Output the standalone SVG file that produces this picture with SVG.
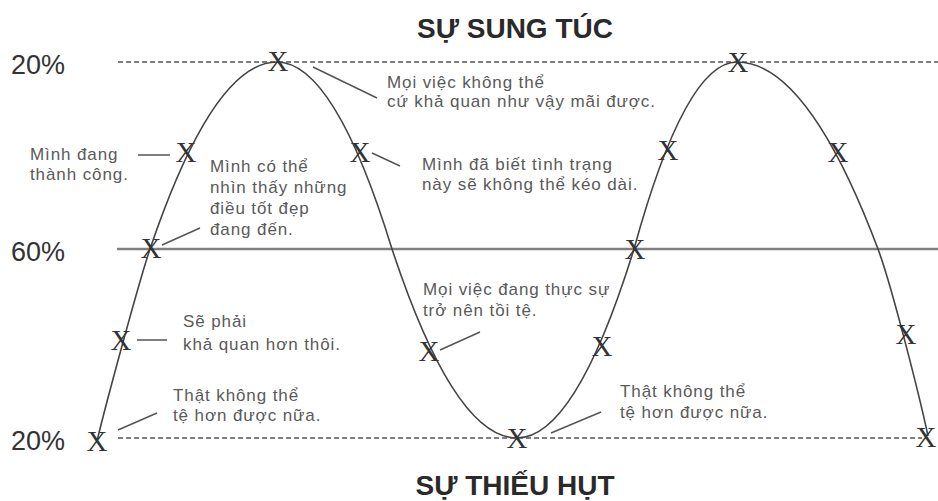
<svg xmlns="http://www.w3.org/2000/svg" width="938" height="501" viewBox="0 0 938 501">
<style>
.title{font-family:"Liberation Sans",Arial,sans-serif;font-size:28px;font-weight:bold;fill:#2a2a2a;text-anchor:middle}
.pct{font-family:"Liberation Sans",Arial,sans-serif;font-size:27px;fill:#333}
.lbl{font-family:"Liberation Sans",Arial,sans-serif;font-size:17px;fill:#5a5a5a;letter-spacing:0.9px}
.mark{font-family:"Liberation Serif","Times New Roman",serif;font-size:29px;fill:#333;text-anchor:middle}
.dash{stroke:#555;stroke-width:1.5;stroke-dasharray:5 3;fill:none}
.lead{stroke:#555;stroke-width:1.5;fill:none}
.curve{stroke:#444;stroke-width:1.6;fill:none}
</style>
<rect width="938" height="501" fill="#fff"/>
<g id="axes">
<line class="dash" x1="118" y1="62" x2="938" y2="62"/>
<line x1="117" y1="249" x2="938" y2="249" stroke="#808080" stroke-width="2.5"/>
<line class="dash" x1="118" y1="438" x2="922" y2="438"/>
<text class="pct" x="11" y="74">20%</text>
<text class="pct" x="11" y="261">60%</text>
<text class="pct" x="11" y="450">20%</text>
<text class="title" x="515" y="38">SỰ SUNG TÚC</text>
<text class="title" x="515" y="495">SỰ THIẾU HỤT</text>
</g>
<g id="curve">
<path class="curve" d="M97,441 C106.6,401 139.8,279 150,249 Q213.5,62 277,62 Q334.5,62 392,249 Q454.5,438 517,438 Q575.5,438 634,249 Q685.5,62 737,62 Q807.5,62 878,249 C891.2,284 920,398 928,436"/>
</g>
<g id="marks">
<text class="mark" x="97" y="451">X</text>
<text class="mark" x="121" y="350">X</text>
<text class="mark" x="151" y="258">X</text>
<text class="mark" x="186" y="162">X</text>
<text class="mark" x="278" y="71">X</text>
<text class="mark" x="360" y="162">X</text>
<text class="mark" x="429" y="361">X</text>
<text class="mark" x="517" y="448">X</text>
<text class="mark" x="602" y="356">X</text>
<text class="mark" x="635" y="259">X</text>
<text class="mark" x="668" y="160">X</text>
<text class="mark" x="738" y="72">X</text>
<text class="mark" x="838" y="162">X</text>
<text class="mark" x="906" y="344">X</text>
<text class="mark" x="926" y="447">X</text>
</g>
<g id="connectors">
<line class="lead" x1="313" y1="67" x2="377" y2="98"/>
<line class="lead" x1="138" y1="155" x2="170" y2="155"/>
<line class="lead" x1="162" y1="245" x2="200" y2="228"/>
<line class="lead" x1="372" y1="153" x2="400" y2="166"/>
<line class="lead" x1="137" y1="340" x2="167" y2="340"/>
<line class="lead" x1="118" y1="430" x2="157" y2="413"/>
<line class="lead" x1="440" y1="350" x2="480" y2="332"/>
<line class="lead" x1="551" y1="433" x2="601" y2="412"/>
</g>
<g id="note-top">
<text class="lbl" x="387" y="88">Mọi việc không thể</text>
<text class="lbl" x="387" y="107">cứ khả quan như vậy mãi được.</text>
</g>
<g id="note-dang-thanh-cong">
<text class="lbl" x="30" y="160">Mình đang</text>
<text class="lbl" x="30" y="180">thành công.</text>
</g>
<g id="note-nhin-thay">
<text class="lbl" x="210" y="172">Mình có thể</text>
<text class="lbl" x="210" y="193">nhìn thấy những</text>
<text class="lbl" x="210" y="214">điều tốt đẹp</text>
<text class="lbl" x="210" y="235">đang đến.</text>
</g>
<g id="note-tinh-trang">
<text class="lbl" x="422" y="170">Mình đã biết tình trạng</text>
<text class="lbl" x="422" y="190">này sẽ không thể kéo dài.</text>
</g>
<g id="note-se-phai">
<text class="lbl" x="183" y="327">Sẽ phải</text>
<text class="lbl" x="183" y="350">khả quan hơn thôi.</text>
</g>
<g id="note-that-khong-the-1">
<text class="lbl" x="173" y="401">Thật không thể</text>
<text class="lbl" x="173" y="421">tệ hơn được nữa.</text>
</g>
<g id="note-toi-te">
<text class="lbl" x="423" y="295">Mọi việc đang thực sự</text>
<text class="lbl" x="423" y="316">trở nên tồi tệ.</text>
</g>
<g id="note-that-khong-the-2">
<text class="lbl" x="620" y="397">Thật không thể</text>
<text class="lbl" x="620" y="418">tệ hơn được nữa.</text>
</g>
</svg>
